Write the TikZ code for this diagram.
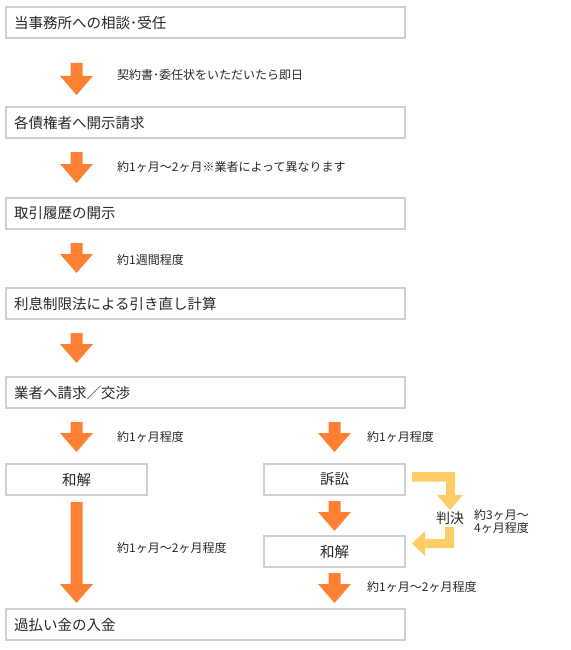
\documentclass[tikz,border=0pt]{standalone}
\usepackage{fontspec}
\setmainfont{Noto Sans CJK JP}
\usetikzlibrary{calc}
\definecolor{arrorange}{RGB}{255,128,51}
\definecolor{arryellow}{RGB}{255,204,102}
\definecolor{boxgray}{RGB}{208,208,208}
\definecolor{txt}{RGB}{40,40,40}
\tikzset{
  boxbase/.style={draw=boxgray, line width=1.6pt, fill=white, rectangle, outer sep=0pt,
    minimum height=31pt, anchor=north west, text=txt, font=\fontsize{14.5pt}{16pt}\selectfont},
  widebox/.style={boxbase, inner xsep=8pt, inner ysep=0pt, text width=383pt, align=left, minimum width=399pt},
  smallbox/.style={boxbase, inner sep=0pt, minimum width=141pt, align=center},
  lbl/.style={anchor=west, inner sep=0pt, text=txt, font=\fontsize{12pt}{13pt}\selectfont, align=left},
  oarrow/.style={fill=arrorange, to path={let \p1=(\tikztostart), \p2=(\tikztotarget) in
    (\x1-6pt,\y1) -- (\x1+6pt,\y1) -- (\x1+6pt,\y2+19pt) -- (\x1+16.5pt,\y2+19pt) -- (\x1,\y2)
    -- (\x1-16.5pt,\y2+19pt) -- (\x1-6pt,\y2+19pt) -- cycle}},
}
\begin{document}
\begin{tikzpicture}[x=1pt,y=-1pt]
\useasboundingbox (0,0) rectangle (570,650);

% boxes
\node[widebox] (b1) at (6,7) {当事務所への相談･受任};
\node[widebox] (b2) at (6,107) {各債権者へ開示請求};
\node[widebox] (b3) at (6,198) {取引履歴の開示};
\node[widebox] (b4) at (6,288) {利息制限法による引き直し計算};
\node[widebox] (b5) at (6,377) {業者へ請求／交渉};
\node[smallbox] (wl) at (6,464) {和解};
\node[smallbox] (so) at (264,464) {訴訟};
\node[smallbox] (wr) at (264,536) {和解};
\node[widebox] (b6) at (6,609) {過払い金の入金};

% orange arrows
\path[oarrow] ([xshift=70.5pt,yshift=-25pt]b1.south west) to ([xshift=70.5pt,yshift=12pt]b2.north west);
\path[oarrow] ([xshift=70.5pt,yshift=-14pt]b2.south west) to ([xshift=70.5pt,yshift=15pt]b3.north west);
\path[oarrow] ([xshift=70.5pt,yshift=-14pt]b3.south west) to ([xshift=70.5pt,yshift=15pt]b4.north west);
\path[oarrow] ([xshift=70.5pt,yshift=-14pt]b4.south west) to ([xshift=70.5pt,yshift=14pt]b5.north west);
\path[oarrow] ([xshift=70.5pt,yshift=-14pt]b5.south west) to ([xshift=70.5pt,yshift=12pt]wl.north west);
\path[oarrow] ([xshift=328.5pt,yshift=-14pt]b5.south west) to ([xshift=70.5pt,yshift=12pt]so.north west);
\path[oarrow] ([xshift=70.5pt,yshift=-7pt]wl.south west) to ([xshift=70.5pt,yshift=6pt]b6.north west);
\path[oarrow] ([xshift=70.5pt,yshift=-6pt]so.south west) to ([xshift=70.5pt,yshift=5pt]wr.north west);
\path[oarrow] ([xshift=70.5pt,yshift=-6pt]wr.south west) to ([xshift=328.5pt,yshift=6pt]b6.north west);

% yellow bent arrows
\fill[arryellow] (412,472) -- (455,472) -- (455,495) -- (463,495) -- (450,510) -- (437,495)
  -- (446,495) -- (446,481.5) -- (412,481.5) -- cycle;
\fill[arryellow] (445,527) -- (454,527) -- (454,548) -- (425,548) -- (425,556) -- (412,543.5)
  -- (425,531) -- (425,539) -- (445,539) -- cycle;
\node[inner sep=0pt, text=txt, font=\fontsize{14pt}{15pt}\selectfont] (hk) at (450,518) {判決};

% labels
\node[lbl] (l1) at (117,75) {契約書･委任状をいただいたら即日};
\node[lbl] (l2) at (117,167) {約1ヶ月～2ヶ月※業者によって異なります};
\node[lbl] (l3) at (117,260) {約1週間程度};
\node[lbl] (l4) at (117,437) {約1ヶ月程度};
\node[lbl] (l5) at (367,437) {約1ヶ月程度};
\node[lbl] (l6) at (117,548) {約1ヶ月～2ヶ月程度};
\node[lbl] (l7) at (474,521.5) {約3ヶ月～\\4ヶ月程度};
\node[lbl] (l8) at (367,587) {約1ヶ月～2ヶ月程度};
\end{tikzpicture}
\end{document}
